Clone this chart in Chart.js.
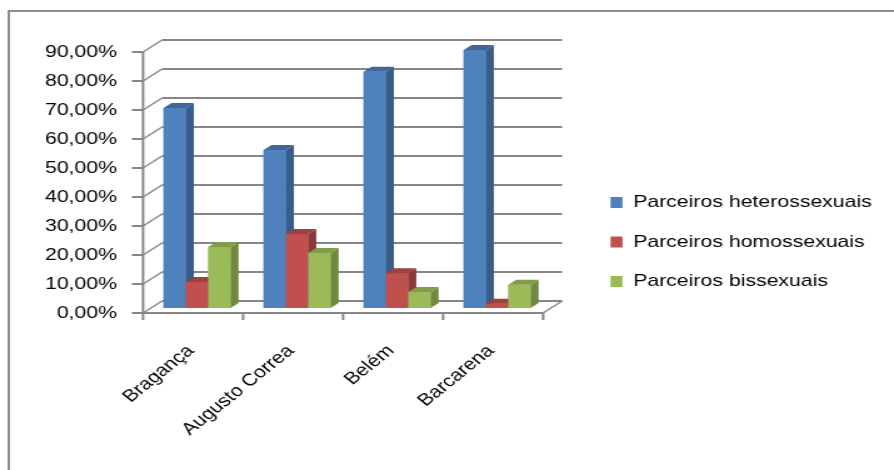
<!DOCTYPE html>
<html>
<head>
<meta charset="utf-8">
<script src="https://cdn.jsdelivr.net/npm/chart.js@4.4.1/dist/chart.umd.min.js"></script>
<style>
html,body{margin:0;padding:0;background:#fff;overflow:hidden;}
/* the reference is stretched sideways, so the chart is drawn narrow and stretched */
#wrap{width:715px;height:470px;transform:scaleX(1.2503);transform-origin:0 0;}
</style>
</head>
<body>
<div id="wrap"><canvas id="chart"></canvas></div>
<script>
const categories = ['Bragança', 'Augusto Correa', 'Belém', 'Barcarena'];
const seriesNames = ['Parceiros heterossexuais', 'Parceiros homossexuais', 'Parceiros bissexuais'];
const hetero = [69, 54.5, 81.5, 89];
const homo = [9, 25.5, 12, 1.5];
const bi = [21, 19, 5.5, 8];
const yTicks = [0, 10, 20, 30, 40, 50, 60, 70, 80, 90];

const frontColors = ['#4F81BD', '#C0504D', '#9BBB59'];
const sideColors = ['#385D8A', '#8C3A38', '#71893F'];
const topColors = ['#41679A', '#9C4240', '#809D4A'];
const GRID = '#868686';

// offsets of the front plane, back wall and bar depth from the bar plane
const FRONT = {dx: -3.2, dy: 5};
const BACK = {dx: 12, dy: -7};
const DEPTH = {dx: 6.4, dy: -5};

function line(ctx, x1, y1, x2, y2) {
  ctx.beginPath();
  ctx.moveTo(x1, y1);
  ctx.lineTo(x2, y2);
  ctx.stroke();
}

function poly(ctx, pts) {
  ctx.beginPath();
  ctx.moveTo(pts[0][0], pts[0][1]);
  for (let i = 1; i < pts.length; i++) ctx.lineTo(pts[i][0], pts[i][1]);
  ctx.closePath();
  ctx.fill();
}

const threeD = {
  id: 'threeD',
  beforeLayout(chart) {
    const lg = chart.legend;
    if (lg && !lg._fixed) {
      const fit = lg.fit;
      lg.fit = function() { fit.call(this); this.width = 715 - 437.6; };
      lg._fixed = true;
    }
  },
  afterLayout(chart) {
    const lg = chart.legend;
    lg.left = 465.8; lg.right = 715;
    lg.top = 171.5; lg.bottom = 470;
  },
  beforeDraw(chart) {
    const ctx = chart.ctx;
    ctx.save();
    ctx.strokeStyle = '#8c8c8c';
    ctx.lineWidth = 2;
    ctx.beginPath();
    ctx.moveTo(7, 470);
    ctx.lineTo(7, 11);
    ctx.lineTo(chart.width, 11);
    ctx.stroke();
    ctx.restore();
  },
  beforeDatasetsDraw(chart) {
    const {ctx, chartArea: a, scales: {y}} = chart;
    ctx.save();
    ctx.strokeStyle = GRID;
    yTicks.forEach(v => {
      const py = y.getPixelForValue(v);
      ctx.lineWidth = 2;
      line(ctx, a.left + BACK.dx, py + BACK.dy, a.right + BACK.dx, py + BACK.dy);
      line(ctx, a.left + FRONT.dx - 9, py + FRONT.dy, a.left + FRONT.dx, py + FRONT.dy);
      ctx.lineWidth = 1.5;
      line(ctx, a.left + FRONT.dx, py + FRONT.dy, a.left + BACK.dx, py + BACK.dy);
    });
    const top = y.getPixelForValue(yTicks[yTicks.length - 1]) + FRONT.dy;
    const bot = y.getPixelForValue(yTicks[0]) + FRONT.dy;
    ctx.lineWidth = 2;
    line(ctx, a.left + FRONT.dx, top, a.left + FRONT.dx, bot + 1);
    line(ctx, a.left + FRONT.dx, bot, a.right + FRONT.dx, bot);
    ctx.lineWidth = 1.5;
    line(ctx, a.right + FRONT.dx, bot, a.right + BACK.dx, bot - FRONT.dy + BACK.dy);
    ctx.lineWidth = 2;
    for (let i = 0; i <= categories.length; i++) {
      const px = a.left + FRONT.dx + i * a.width / categories.length;
      line(ctx, px, bot, px, bot + 7);
    }
    ctx.restore();
  },
  // bars again, series by series, each with its side and top face,
  // so that the next series hides the side of the one before it
  afterDatasetsDraw(chart) {
    const ctx = chart.ctx;
    ctx.save();
    chart.data.datasets.forEach((ds, i) => {
      chart.getDatasetMeta(i).data.forEach(bar => {
        bar.draw(ctx);
        const {x, y, base, width} = bar.getProps(['x', 'y', 'base', 'width'], true);
        const l = x - width / 2, r = x + width / 2;
        ctx.fillStyle = sideColors[i];
        poly(ctx, [[r, y], [r + DEPTH.dx, y + DEPTH.dy], [r + DEPTH.dx, base + DEPTH.dy], [r, base]]);
        ctx.fillStyle = topColors[i];
        poly(ctx, [[l, y], [l + DEPTH.dx, y + DEPTH.dy], [r + DEPTH.dx, y + DEPTH.dy], [r, y]]);
      });
    });
    ctx.restore();
  }
};

Chart.defaults.color = '#000';
Chart.defaults.font.family = '"Liberation Sans", Arial, sans-serif';
Chart.defaults.font.size = 17;

new Chart(document.getElementById('chart'), {
  type: 'bar',
  data: {
    labels: categories,
    datasets: [
      {label: seriesNames[0], data: hetero, backgroundColor: frontColors[0]},
      {label: seriesNames[1], data: homo, backgroundColor: frontColors[1]},
      {label: seriesNames[2], data: bi, backgroundColor: frontColors[2]}
    ]
  },
  options: {
    responsive: true,
    maintainAspectRatio: false,
    animation: false,
    layout: {padding: {top: 47, left: 0, right: 0, bottom: 0}},
    datasets: {bar: {categoryPercentage: 0.67, barPercentage: 1, borderWidth: 0}},
    plugins: {
      legend: {
        position: 'right',
        align: 'start',
        labels: {boxWidth: 9.6, boxHeight: 11, padding: 22.5}
      },
      tooltip: {enabled: false}
    },
    scales: {
      x: {
        grid: {display: false, drawTicks: false},
        border: {display: false},
        ticks: {minRotation: 45, maxRotation: 45, autoSkip: false, padding: 33, labelOffset: -5},
        afterFit: s => { s.height = 162; }
      },
      y: {
        min: 0,
        max: 90,
        grid: {display: false, drawTicks: false},
        border: {display: false},
        ticks: {
          padding: 24,
          labelOffset: 5,
          callback: v => v.toFixed(2).replace('.', ',') + '%'
        },
        afterBuildTicks: s => { s.ticks = yTicks.map(v => ({value: v})); },
        afterFit: s => { s.width = 117.6; }
      }
    }
  },
  plugins: [threeD]
});
</script>
</body>
</html>
